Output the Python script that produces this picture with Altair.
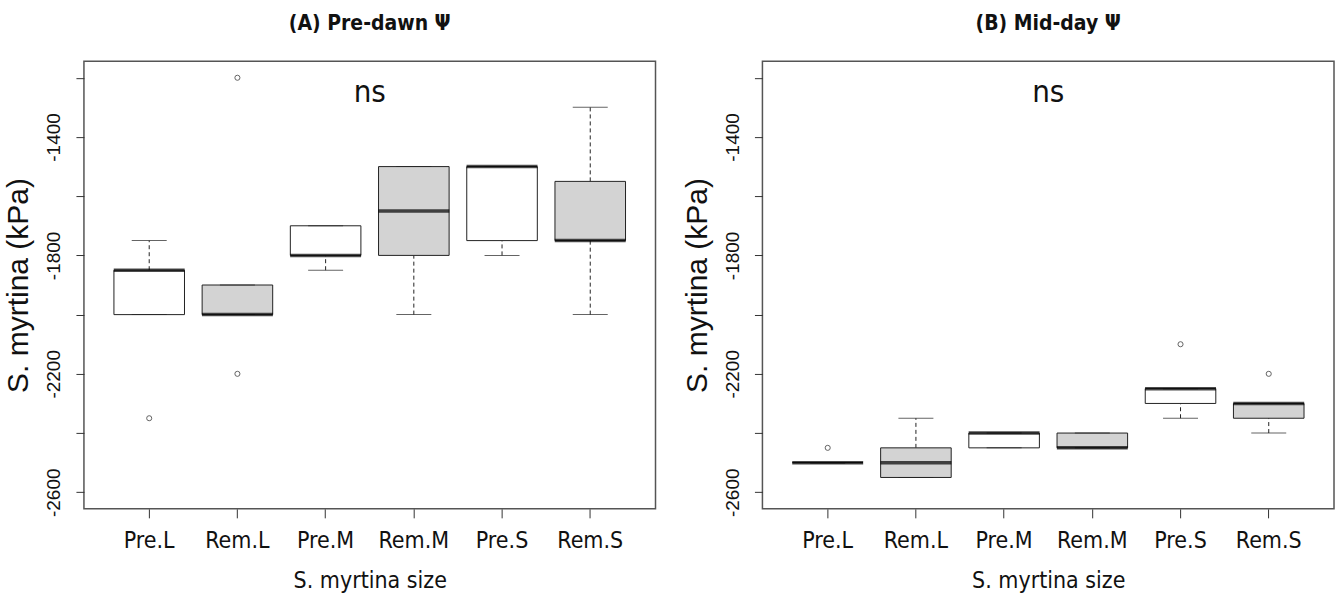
import altair as alt
import pandas as pd

cats = ["Pre.L", "Rem.L", "Pre.M", "Rem.M", "Pre.S", "Rem.S"]
groups = ["Pre", "Rem", "Pre", "Rem", "Pre", "Rem"]

# Panel A: Pre-dawn water potential (kPa)
a_lower = [-2000, -2000, -1850, -2000, -1800, -2000]
a_q1 = [-2000, -2000, -1800, -1800, -1750, -1750]
a_med = [-1850, -2000, -1800, -1650, -1500, -1750]
a_q3 = [-1850, -1900, -1700, -1500, -1500, -1550]
a_upper = [-1750, -1900, -1700, -1500, -1500, -1300]
a_out_cat = ["Pre.L", "Rem.L", "Rem.L"]
a_out_val = [-2350, -1200, -2200]

# Panel B: Mid-day water potential (kPa)
b_lower = [-2500, -2550, -2450, -2450, -2350, -2400]
b_q1 = [-2500, -2550, -2450, -2450, -2300, -2350]
b_med = [-2500, -2500, -2400, -2450, -2250, -2300]
b_q3 = [-2500, -2450, -2400, -2400, -2250, -2300]
b_upper = [-2500, -2350, -2400, -2400, -2250, -2300]
b_out_cat = ["Pre.L", "Pre.S", "Rem.S"]
b_out_val = [-2450, -2100, -2200]

titles = ["(A) Pre-dawn \u03a8", "(B) Mid-day \u03a8"]
annotation = "ns"
y_title = "S. myrtina (kPa)"
x_title = "S. myrtina size"
y_ticks = [-1200, -1400, -1600, -1800, -2000, -2200, -2400, -2600]
y_domain = [-2656, -1144]

NARROW = "Liberation Sans Narrow, Arial Narrow, DejaVu Sans Condensed, sans-serif"
REG = "Liberation Sans, Arial, sans-serif"


def panel(lower, q1, med, q3, upper, out_cat, out_val, title):
    df = pd.DataFrame({"cat": cats, "grp": groups, "lower": lower, "q1": q1,
                       "med": med, "q3": q3, "upper": upper})
    odf = pd.DataFrame({"cat": out_cat, "val": out_val})
    tdf = pd.DataFrame({"t": [annotation]})

    x = alt.X("cat:N", sort=cats, title=x_title,
              scale=alt.Scale(paddingInner=0.2, paddingOuter=0.34),
              axis=alt.Axis(labelAngle=0, labelFont=NARROW, labelFontSize=23,
                            labelColor="#111", tickSize=9, tickColor="#333",
                            labelPadding=12, domain=False, grid=False,
                            titleFont=NARROW, titleFontSize=23,
                            titleFontWeight="normal", titleColor="#111",
                            titlePadding=17))
    yscale = alt.Scale(domain=y_domain, nice=False, zero=False)
    yaxis = alt.Axis(values=y_ticks, labelAngle=-90, labelAlign="center",
                     labelBaseline="bottom", labelFont=REG, labelFontSize=19,
                     labelColor="#111", tickSize=8, tickColor="#333",
                     labelPadding=12, domain=False, grid=False,
                     labelExpr="abs(datum.value) % 400 == 200 ? '' + datum.value : ''",
                     title=y_title, titleFont=REG, titleFontSize=30,
                     titleFontWeight="normal", titleColor="#111", titlePadding=11)

    base = alt.Chart(df)
    lo_whisk = base.mark_rule(color="#222", strokeWidth=1, strokeDash=[4, 3]).encode(
        x=x, y=alt.Y("lower:Q", scale=yscale, axis=yaxis), y2="q1:Q")
    hi_whisk = base.mark_rule(color="#222", strokeWidth=1, strokeDash=[4, 3]).encode(
        x=x, y=alt.Y("q3:Q", scale=yscale, axis=yaxis), y2="upper:Q")
    lo_cap = base.mark_tick(color="#222", thickness=1, size=35).encode(
        x=x, y=alt.Y("lower:Q", scale=yscale, axis=yaxis))
    hi_cap = base.mark_tick(color="#222", thickness=1, size=35).encode(
        x=x, y=alt.Y("upper:Q", scale=yscale, axis=yaxis))
    box = base.mark_bar(stroke="#222", strokeWidth=1).encode(
        x=x, y=alt.Y("q1:Q", scale=yscale, axis=yaxis), y2="q3:Q",
        fill=alt.Fill("grp:N", scale=alt.Scale(domain=["Pre", "Rem"],
                                               range=["#ffffff", "#d3d3d3"]),
                      legend=None))
    med_mark = base.mark_tick(color="#000", thickness=3.5, size=71).encode(
        x=x, y=alt.Y("med:Q", scale=yscale, axis=yaxis))
    outl = alt.Chart(odf).mark_point(shape="circle", filled=False, color="#222",
                                     size=26, strokeWidth=1).encode(
        x=alt.X("cat:N", sort=cats), y=alt.Y("val:Q", scale=yscale))
    ns = alt.Chart(tdf).mark_text(font=NARROW, fontSize=31, color="#111",
                                  baseline="alphabetic").encode(
        x=alt.value(286), y=alt.value(41), text="t:N")

    return alt.layer(lo_whisk, hi_whisk, box, lo_cap, hi_cap, med_mark, outl, ns).properties(
        width=572, height=448,
        title=alt.TitleParams(title, font=NARROW, fontSize=21, fontWeight="bold",
                              color="#111", anchor="middle", offset=27))


left = panel(a_lower, a_q1, a_med, a_q3, a_upper, a_out_cat, a_out_val, titles[0])
right = panel(b_lower, b_q1, b_med, b_q3, b_upper, b_out_cat, b_out_val, titles[1])

chart = alt.hconcat(left, right, spacing=25).properties(
    background="white",
    padding={"left": 3, "top": 12, "right": 8, "bottom": 0}
).configure_view(stroke="#555", strokeWidth=1.5)

chart.save("out.html", embed_options={"renderer": "svg", "actions": False})
